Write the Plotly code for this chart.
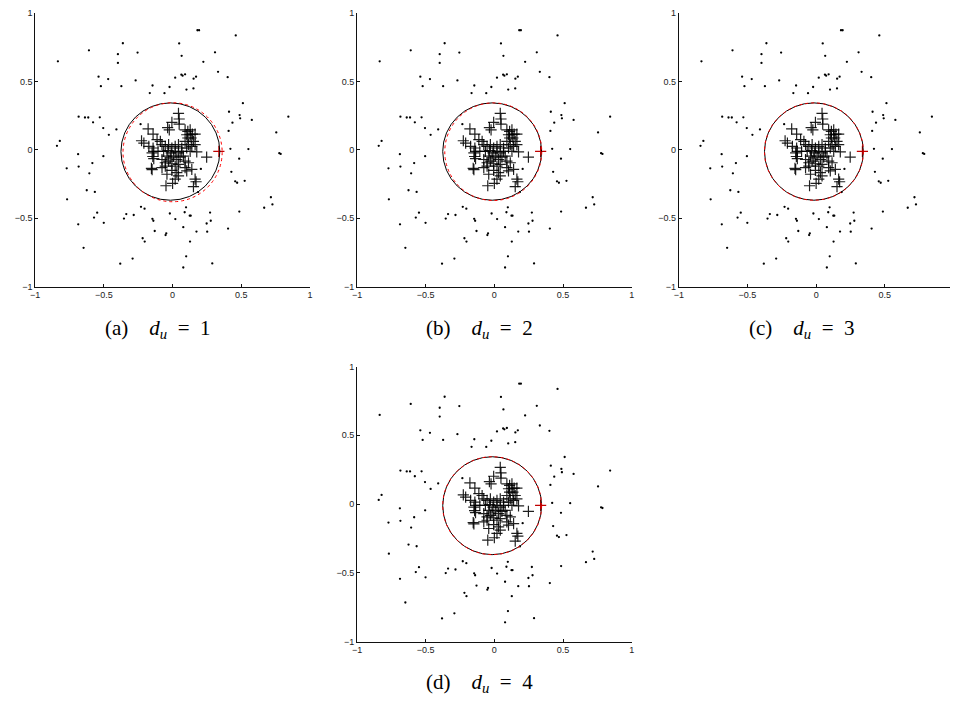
import plotly.graph_objects as go

# ---------------- data ----------------
dot_x = [-0.835, -0.609, -0.362, -0.398, -0.398, -0.255, 0.048, 0.181, 0.193, 0.460,
         0.066, 0.309, 0.224, 0.331, 0.401, 0.064, 0.073, 0.091, 0.019, 0.171,
         0.153, 0.101, 0.152, -0.022, -0.059, -0.146, -0.166, -0.269, -0.373, -0.469,
         -0.539, -0.522, -0.684, -0.638, -0.614, -0.530, -0.579, -0.505, -0.464, -0.409,
         -0.233, -0.821, -0.842, -0.771, -0.768, -0.688, -0.684, -0.584, -0.606, -0.504,
         -0.625, -0.566, -0.230, -0.204, -0.549, -0.572, -0.501, -0.687, -0.337, -0.354,
         -0.283, -0.147, -0.140, -0.130, -0.046, -0.051, -0.020, 0.020, 0.098, 0.088,
         0.125, 0.132, 0.273, 0.278, 0.248, 0.078, 0.174, 0.252, 0.127, 0.099,
         0.078, 0.289, -0.218, -0.203, -0.648, -0.381, -0.291, 0.404, 0.486, 0.525,
         0.456, 0.470, 0.428, 0.485, 0.421, 0.552, 0.408, 0.436, 0.411, 0.488,
         0.492, 0.512, 0.577, 0.843, 0.755, 0.777, 0.787, 0.716, 0.727, 0.667,
         0.206, 0.186]
dot_y = [0.648, 0.728, 0.780, 0.700, 0.636, 0.712, 0.779, 0.875, 0.875, 0.837,
         0.688, 0.714, 0.644, 0.571, 0.532, 0.550, 0.543, 0.553, 0.528, 0.536,
         0.521, 0.441, 0.450, 0.460, 0.415, 0.471, 0.416, 0.508, 0.466, 0.518,
         0.536, 0.466, 0.243, 0.237, 0.237, 0.238, 0.202, 0.160, 0.110, 0.150,
         0.188, 0.066, 0.030, -0.135, -0.361, -0.031, -0.122, -0.096, -0.171, -0.046,
         -0.295, -0.307, -0.416, -0.430, -0.459, -0.495, -0.533, -0.544, -0.469, -0.502,
         -0.476, -0.504, -0.518, -0.593, -0.610, -0.623, -0.465, -0.506, -0.420, -0.456,
         -0.481, -0.481, -0.458, -0.518, -0.538, -0.565, -0.597, -0.598, -0.670, -0.778,
         -0.860, -0.830, -0.646, -0.670, -0.716, -0.832, -0.795, -0.575, -0.451, -0.226,
         -0.230, -0.240, -0.160, -0.064, 0.008, 0.006, 0.139, 0.199, 0.279, 0.255,
         0.231, 0.342, 0.219, 0.243, 0.128, -0.024, -0.029, -0.346, -0.399, -0.423,
         -0.139, -0.308]

plus_x = [0.043, 0.048, 0.048, -0.005, -0.036, -0.024,
          -0.178, -0.142, -0.226, -0.209, -0.173, -0.142, -0.113, -0.089,
          -0.077, -0.053, -0.029, -0.005, 0.019, 0.043, 0.067, -0.065, -0.034, -0.010,
          0.019, 0.043, 0.067, -0.041, -0.017, 0.007, 0.031, 0.055, 0.079, -0.077,
          -0.053, -0.029, -0.005, 0.019, 0.043,
          0.091, 0.111, 0.128, 0.103, 0.128, 0.144, 0.164, 0.111, 0.135, 0.091,
          0.152, 0.116, 0.140, 0.164, 0.176, 0.128, 0.103, 0.248,
          -0.154, -0.149, -0.077, -0.053, -0.005, 0.031, 0.043, 0.019, 0.091, 0.103,
          0.140, 0.116, 0.091, 0.164, 0.171, 0.152, 0.000, -0.048, -0.041,
          -0.144, -0.137, -0.137, -0.149, -0.106]
plus_y = [0.267, 0.226, 0.188, 0.202, 0.163, 0.147,
          0.154, 0.115, 0.067, 0.050, 0.026, 0.014, 0.075, 0.062,
          0.038, 0.026, 0.038, 0.014, 0.026, 0.038, 0.014, -0.010, -0.005, -0.022,
          -0.010, -0.022, -0.010, -0.046, -0.058, -0.046, -0.070, -0.053, -0.046, -0.070,
          -0.094, -0.082, -0.101, -0.118, -0.106,
          0.147, 0.135, 0.147, 0.111, 0.111, 0.115, 0.115, 0.087, 0.087, 0.062,
          0.062, 0.038, 0.026, 0.038, -0.014, -0.010, 0.014, -0.053,
          -0.135, -0.144, -0.130, -0.118, -0.149, -0.166, -0.190, -0.214, -0.130, -0.154,
          -0.142, -0.094, -0.082, -0.214, -0.233, -0.269, -0.245, -0.262, -0.178,
          -0.048, -0.063, -0.010, -0.022, -0.010]

sv_x = [0.337]
sv_y = [-0.010]

# true boundary (black) and estimated boundary (red) : centre and radii
true_cx, true_cy, true_rx, true_ry = -0.016, -0.012, 0.360, 0.356
est_cx = [0.000, -0.008, -0.016, -0.016]
est_cy = [-0.017, -0.013, -0.012, -0.012]
est_rx = [0.361, 0.353, 0.360, 0.360]
est_ry = [0.362, 0.357, 0.356, 0.356]

panel_labels = ["(a)", "(b)", "(c)", "(d)"]
du_values = [1, 2, 3, 4]
tick_vals = [-1, -0.5, 0, 0.5, 1]
tick_text = ["\u22121", "\u22120.5", "0", "0.5", "1"]

# ---------------- layout geometry (pixels) ----------------
W, H = 953, 706
boxes = [  # left, right, top, bottom
    (30.5, 307.5, 8.3, 285.7),
    (355.0, 632.0, 8.3, 285.7),
    (679.5, 956.5, 8.3, 285.7),
    (355.0, 632.0, 366.7, 645.7),
]
caption_pos = [(154, 329), (479, 329), (804, 329), (479, 688)]
serif = "Liberation Serif, Times New Roman, Times, serif"
sans = "Liberation Sans, Arial, Helvetica, sans-serif"

fig = go.Figure()
layout = dict(width=W, height=H, margin=dict(l=0, r=0, t=0, b=0),
              paper_bgcolor="white", plot_bgcolor="white", showlegend=False)
shapes = []
annotations = []

for i in range(4):
    sfx = "" if i == 0 else str(i + 1)
    xa, ya = "x" + sfx, "y" + sfx
    l, r, t, b = boxes[i]
    rr = min(r, W)
    xmax = -1 + 2 * (rr - l) / (r - l)
    axis_common = dict(showgrid=False, zeroline=False, showline=True, linecolor="#111",
                       linewidth=1, ticks="inside", ticklen=3, tickcolor="#111",
                       tickvals=tick_vals, ticktext=tick_text,
                       tickfont=dict(family=sans, size=9, color="#222"),
                       fixedrange=True)
    layout["xaxis" + sfx] = dict(axis_common, domain=[l / W, rr / W], range=[-1, xmax],
                                 anchor=ya)
    layout["yaxis" + sfx] = dict(axis_common, domain=[1 - b / H, 1 - t / H], range=[-1, 1],
                                 anchor=xa)

    fig.add_trace(go.Scatter(x=dot_x, y=dot_y, mode="markers", xaxis=xa, yaxis=ya,
                             marker=dict(size=2.3, color="black", line=dict(width=0))))
    fig.add_trace(go.Scatter(x=plus_x, y=plus_y, mode="markers", xaxis=xa, yaxis=ya,
                             marker=dict(symbol="cross-thin", size=8,
                                         line=dict(width=1.2, color="rgba(0,0,0,0.88)"))))
    fig.add_trace(go.Scatter(x=sv_x, y=sv_y, mode="markers", xaxis=xa, yaxis=ya,
                             marker=dict(symbol="cross-thin", size=8,
                                         line=dict(width=1.2, color="#c00000"))))

    shapes.append(dict(type="circle", xref=xa, yref=ya,
                       x0=true_cx - true_rx, x1=true_cx + true_rx,
                       y0=true_cy - true_ry, y1=true_cy + true_ry,
                       line=dict(color="black", width=1)))
    shapes.append(dict(type="circle", xref=xa, yref=ya,
                       x0=est_cx[i] - est_rx[i], x1=est_cx[i] + est_rx[i],
                       y0=est_cy[i] - est_ry[i], y1=est_cy[i] + est_ry[i],
                       line=dict(color="red", width=1, dash="dot")))

    cx, cy = caption_pos[i]
    annotations.append(dict(
        xref="paper", yref="paper", x=cx / W, y=1 - cy / H, xanchor="center", yanchor="middle",
        showarrow=False,
        text=panel_labels[i] + "\u2002\u2002<i>d</i><sub><i>u</i></sub>\u2002=\u2002" + str(du_values[i]),
        font=dict(family=serif, size=21, color="black")))

layout["shapes"] = shapes
layout["annotations"] = annotations
fig.update_layout(**layout)
fig.write_html("out.html")
